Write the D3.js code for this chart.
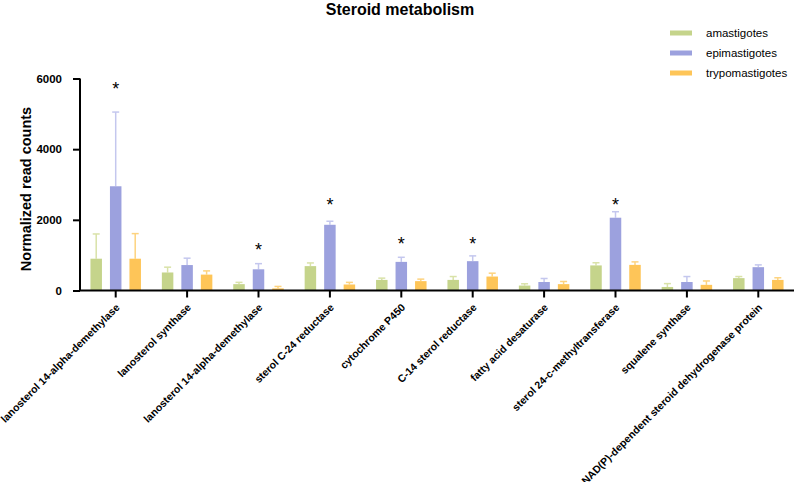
<!DOCTYPE html>
<html><head><meta charset="utf-8">
<script src="https://cdn.jsdelivr.net/npm/d3@7"></script>
<style>body{margin:0;background:#fff;} svg{display:block;font-family:"Liberation Sans",Arial,sans-serif;}</style>
</head><body>
<svg id="c" width="794" height="482"></svg>
<script>
const categories = ["lanosterol 14-alpha-demethylase","lanosterol synthase","lanosterol 14-alpha-demethylase","sterol C-24 reductase","cytochrome P450","C-14 sterol reductase","fatty acid desaturase","sterol 24-c-methyltransferase","squalene synthase","NAD(P)-dependent steroid dehydrogenase protein"];
const seriesNames = ["amastigotes","epimastigotes","trypomastigotes"];
const amastigotes = [900, 510, 180, 690, 300, 300, 140, 710, 100, 350];
const amastigotesErr = [700, 150, 50, 90, 50, 95, 50, 75, 95, 45];
const epimastigotes = [2950, 720, 600, 1860, 810, 830, 240, 2060, 240, 660];
const epimastigotesErr = [2100, 195, 160, 100, 130, 150, 100, 170, 155, 65];
const trypomastigotes = [900, 450, 60, 170, 265, 395, 180, 725, 160, 300];
const trypomastigotesErr = [710, 105, 55, 60, 57, 95, 75, 85, 110, 60];
// significance star positions (data units), null = no star
const starLevels = [5750, null, 1190, 2470, 1380, 1380, null, 2470, null, null];
const yTicks = [0, 2000, 4000, 6000];
const colors = ["#c5d48b", "#9ca1de", "#fec558"];
const errColors = ["#d9e2a8", "#c4c7ee", "#fdd37f"];

const svg = d3.select("#c");
const x0 = 80, x1 = 794, yTop = 78.5, yBot = 290.5;
const x = d3.scaleBand().domain(d3.range(categories.length)).range([x0, x1]).padding(0);
const y = d3.scaleLinear().domain([0, 6000]).range([yBot, yTop]);
const offsets = [-19.5, 0, 19.5];
const bw = 11.5;
const vals = [amastigotes, epimastigotes, trypomastigotes];
const errs = [amastigotesErr, epimastigotesErr, trypomastigotesErr];

// title
svg.append("text").attr("x", 400).attr("y", 15).attr("text-anchor", "middle")
  .style("font-family", "'Liberation Sans Narrow','Liberation Sans',Arial,sans-serif")
  .style("font-weight", "bold").style("font-size", "16px").text("Steroid metabolism");

// bars & errors
vals.forEach((arr, s) => {
  const g = svg.append("g");
  arr.forEach((v, i) => {
    const cx = x(i) + x.bandwidth() / 2 + offsets[s];
    const e = errs[s][i];
    g.append("line").attr("x1", cx).attr("x2", cx).attr("y1", y(v)).attr("y2", y(v + e))
      .attr("stroke", errColors[s]).attr("stroke-width", 1.5);
    g.append("line").attr("x1", cx - 3.5).attr("x2", cx + 3.5).attr("y1", y(v + e)).attr("y2", y(v + e))
      .attr("stroke", errColors[s]).attr("stroke-width", 1.5);
    g.append("rect").attr("x", cx - bw / 2).attr("y", y(v)).attr("width", bw).attr("height", yBot - y(v))
      .attr("fill", colors[s]);
  });
});

// stars
starLevels.forEach((lv, i) => {
  if (lv == null) return;
  const cx = x(i) + x.bandwidth() / 2;
  svg.append("text").attr("x", cx).attr("y", y(lv) + 8)
    .attr("text-anchor", "middle").style("font-size", "18px").text("*");
});

// y axis
const yAxis = svg.append("g").attr("transform", `translate(${x0},0)`)
  .call(d3.axisLeft(y).tickValues(yTicks).tickSize(7).tickPadding(11).tickFormat(d3.format("d")));
yAxis.select(".domain").attr("stroke-width", 2).attr("d", `M0,${yTop}V${yBot}`);
yAxis.selectAll(".tick line").attr("stroke-width", 2);
yAxis.selectAll("text").style("font-size", "11.5px").style("font-weight", "bold").attr("fill", "#000")
  .style("font-family", "'Liberation Sans',Arial,sans-serif");

// x axis
const xAxis = svg.append("g").attr("transform", `translate(0,${yBot})`)
  .call(d3.axisBottom(x).tickSize(7).tickSizeOuter(0).tickFormat(i => categories[i]));
xAxis.select(".domain").attr("stroke-width", 2).attr("d", `M${x0 - 1},0H${x1}`);
xAxis.selectAll(".tick line").attr("stroke-width", 2);
xAxis.selectAll("text").style("font-size", "10.5px").style("font-weight", "bold").attr("fill", "#000")
  .style("font-family", "'Liberation Sans',Arial,sans-serif")
  .attr("text-anchor", "end").attr("dy", "0.35em").attr("y", 0)
  .attr("transform", "translate(2,15) rotate(-45)");

// y label
svg.append("text").attr("transform", `translate(31,189) rotate(-90)`)
  .attr("text-anchor", "middle").style("font-size", "14.5px").style("font-weight", "bold")
  .text("Normalized read counts");

// legend
seriesNames.forEach((n, s) => {
  const ly = 33 + s * 20;
  svg.append("rect").attr("x", 670).attr("y", ly - 2.5).attr("width", 22).attr("height", 5).attr("fill", colors[s]);
  svg.append("text").attr("x", 706).attr("y", ly).attr("dy", "0.35em").style("font-size", "11.5px").text(n);
});
</script>
</body></html>
